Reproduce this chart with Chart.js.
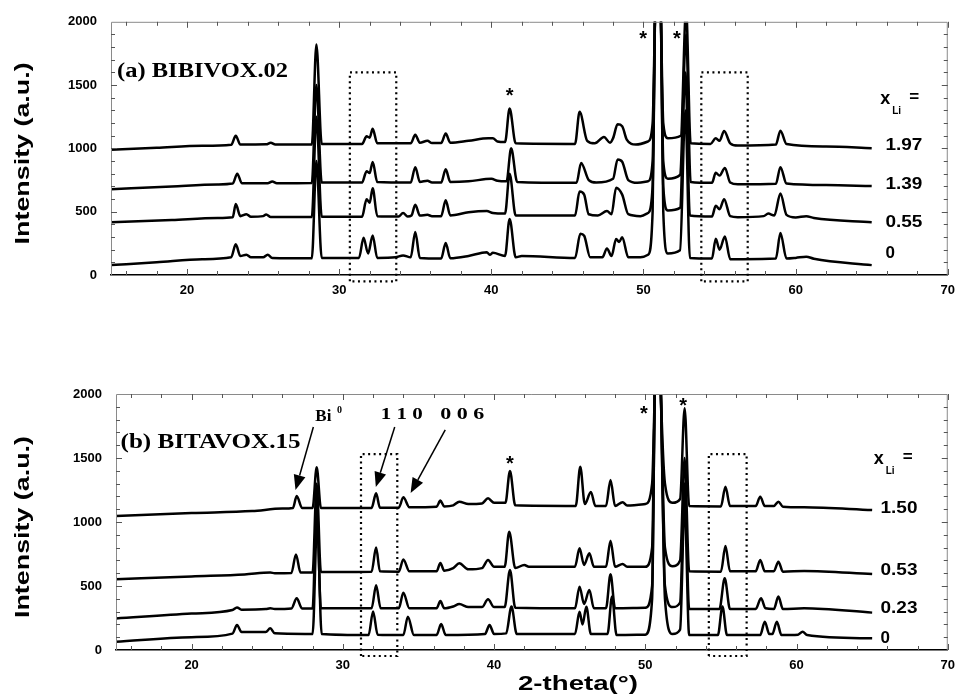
<!DOCTYPE html>
<html lang="en">
<head>
  <meta charset="UTF-8">
  <title>XRD BIBIVOX / BITAVOX</title>
  <script src="https://cdn.jsdelivr.net/npm/chart.js"></script>
  <style>
    body { margin: 0; background: #fff; }
    .panel { position: absolute; left: 0; width: 963px; }
    #pa { top: 0; height: 300px; }
    #pb { top: 370px; height: 326px; }
  </style>
</head>
<body>
  <div class="panel" id="pa"><canvas id="chartA" width="963" height="300"></canvas></div>
  <div class="panel" id="pb"><canvas id="chartB" width="963" height="326"></canvas></div>

  <script>
    // ---- data: [2-theta, intensity] ----
    // (a) BIBIVOX.02
    const a197 = [[15,990],[18,1005],[21,1020],[22.9,1028],[23.2,1100],[23.5,1030],[25.2,1032],[25.5,1045],[25.8,1030],[28.2,1030],[28.5,1820],[28.85,1035],[31.5,1035],[31.8,1095],[32.0,1085],[32.2,1155],[32.5,1040],[34.7,1040],[35.0,1107],[35.3,1045],[35.8,1060],[36.1,1042],[36.7,1042],[37.0,1117],[37.3,1045],[38.5,1060],[39.8,1080],[40.1,1080],[40.4,1055],[40.9,1050],[41.2,1315],[41.6,1040],[45.5,1035],[45.8,1289],[46.3,1060],[46.8,1040],[47.4,1090],[47.8,1045],[48.0,1080],[48.3,1190],[48.6,1175],[48.9,1070],[49.5,1030],[50.3,1055],[50.6,1200],[50.75,2000],[50.95,3000],[51.15,2000],[51.3,1200],[51.6,1080],[52.45,1100],[52.8,2100],[53.1,1040],[54.4,1035],[54.75,1080],[55.0,1060],[55.3,1138],[55.7,1040],[56.2,1022],[58.7,1030],[59.0,1140],[59.4,1035],[62,1015],[65,1002]];
    const a139 = [[15,678],[19,700],[22,715],[23.0,722],[23.3,800],[23.6,725],[25.3,725],[25.6,738],[25.9,725],[28.2,727],[28.5,1500],[28.85,730],[31.5,730],[31.8,820],[32.0,805],[32.2,893],[32.5,735],[34.7,730],[35.0,852],[35.3,735],[35.8,745],[36.1,730],[36.7,730],[37.0,835],[37.3,735],[38.5,740],[40.0,760],[40.4,745],[41.0,740],[41.3,1002],[41.7,735],[45.6,728],[45.9,885],[46.4,750],[46.9,730],[48.0,760],[48.3,913],[48.6,895],[49.0,750],[49.6,728],[50.3,740],[50.6,900],[50.75,2000],[50.95,3000],[51.15,2000],[51.3,900],[51.6,760],[52.4,790],[52.8,1900],[53.1,735],[54.5,728],[54.75,807],[55.0,785],[55.35,846],[55.7,730],[56.2,716],[58.7,720],[59.0,852],[59.4,722],[62,710],[65,703]];
    const a055 = [[15,417],[19,435],[22,450],[23.0,456],[23.2,560],[23.5,465],[23.9,480],[24.2,460],[25.0,465],[25.2,478],[25.5,458],[28.2,458],[28.5,1250],[28.85,460],[31.5,460],[31.8,599],[32.0,570],[32.2,685],[32.5,465],[33.9,462],[34.2,490],[34.5,462],[34.75,470],[35.0,555],[35.3,470],[35.8,475],[36.1,465],[36.7,465],[37.0,591],[37.3,470],[38.5,495],[39.7,505],[40.1,490],[40.9,485],[41.2,799],[41.6,470],[45.5,470],[45.8,659],[46.1,635],[46.4,480],[47.0,470],[47.6,505],[47.9,480],[48.2,690],[48.6,635],[49.0,480],[49.8,465],[50.3,490],[50.6,700],[50.75,2000],[50.95,3000],[51.15,2000],[51.3,700],[51.6,510],[52.4,530],[52.75,1600],[53.05,470],[54.5,462],[54.75,547],[55.0,520],[55.3,599],[55.7,465],[56.2,457],[57.9,465],[58.2,485],[58.6,470],[59.0,643],[59.4,475],[60.0,455],[60.7,465],[61.2,450],[65,417]];
    const a000 = [[15,78],[18,100],[21,125],[22.9,140],[23.2,242],[23.5,150],[23.9,160],[24.2,140],[25.0,140],[25.3,160],[25.6,135],[28.2,132],[28.5,900],[28.85,135],[31.3,135],[31.6,294],[31.9,170],[32.2,312],[32.5,135],[33.7,140],[34.2,155],[34.7,140],[35.0,339],[35.3,135],[36.7,130],[37.0,253],[37.3,132],[38.5,150],[39.7,180],[39.9,160],[40.1,175],[40.9,150],[41.2,443],[41.6,140],[42.0,150],[45.5,135],[45.85,326],[46.1,310],[46.5,140],[47.3,140],[47.6,210],[47.9,150],[48.2,285],[48.4,260],[48.6,299],[49.0,140],[49.8,140],[50.3,160],[50.6,500],[50.75,2000],[50.95,3000],[51.15,2000],[51.3,500],[51.6,170],[52.4,195],[52.75,1300],[53.05,135],[54.5,130],[54.75,286],[55.0,200],[55.35,305],[55.7,125],[56.5,125],[58.7,130],[59.0,331],[59.4,130],[60.0,135],[60.7,145],[61.2,128],[65,78]];

    // (b) BITAVOX.15
    const b150 = [[15,1047],[20,1070],[24,1085],[26.0,1105],[26.7,1110],[26.95,1203],[27.3,1110],[28.0,1110],[28.27,1427],[28.55,1110],[31.9,1110],[32.2,1224],[32.45,1112],[33.7,1112],[34.0,1193],[34.4,1115],[36.2,1120],[36.45,1167],[36.7,1122],[37.3,1130],[37.7,1159],[38.3,1140],[39.2,1145],[39.6,1185],[40.0,1150],[40.75,1150],[41.05,1398],[41.4,1130],[45.4,1125],[45.7,1432],[46.0,1140],[46.4,1234],[46.7,1125],[47.4,1125],[47.7,1328],[48.0,1125],[48.5,1155],[48.8,1128],[50.0,1140],[50.45,1300],[50.62,2000],[50.83,3000],[51.03,2000],[51.3,1300],[51.8,1150],[52.3,1180],[52.6,1888],[52.9,1125],[55.0,1122],[55.3,1276],[55.6,1125],[57.3,1125],[57.6,1198],[57.9,1125],[58.5,1125],[58.8,1159],[59.1,1120],[60.5,1115],[65,1094]];
    const b053 = [[15,552],[20,575],[23.5,590],[25.2,605],[25.5,600],[26.6,602],[26.9,747],[27.2,605],[28.0,605],[28.27,1300],[28.55,610],[31.9,612],[32.2,800],[32.45,615],[33.7,612],[34.0,708],[34.4,615],[36.2,615],[36.45,680],[36.7,620],[37.3,640],[37.7,677],[38.3,630],[39.2,640],[39.6,703],[40.0,650],[40.7,650],[41.0,924],[41.4,640],[42.0,665],[42.3,650],[45.35,651],[45.65,794],[45.95,665],[46.3,755],[46.6,651],[47.4,650],[47.7,854],[48.0,650],[48.5,672],[48.8,650],[50.0,650],[50.45,800],[50.62,2000],[50.83,3000],[51.03,2000],[51.3,800],[51.8,655],[52.3,700],[52.6,1500],[52.9,615],[55.0,612],[55.3,812],[55.6,615],[57.3,615],[57.6,703],[57.9,615],[58.5,615],[58.8,690],[59.1,612],[60.5,618],[65,594]];
    const b023 = [[15,247],[20,285],[22.7,312],[23.0,333],[23.3,315],[24.9,320],[25.2,326],[25.5,320],[26.6,325],[26.95,404],[27.3,325],[28.0,325],[28.27,1150],[28.55,326],[31.9,326],[32.2,505],[32.5,326],[33.7,326],[34.0,448],[34.4,326],[36.2,326],[36.45,383],[36.7,326],[37.3,340],[37.7,359],[38.3,335],[39.2,335],[39.6,396],[40.0,335],[40.7,335],[41.05,625],[41.4,330],[45.35,326],[45.65,495],[45.95,360],[46.3,469],[46.6,326],[47.4,326],[47.7,591],[48.0,326],[50.0,330],[50.45,500],[50.62,2000],[50.83,3000],[51.03,2000],[51.3,500],[51.8,335],[52.3,370],[52.6,1300],[52.9,320],[54.9,320],[55.25,560],[55.6,320],[57.3,320],[57.65,404],[57.95,326],[58.5,320],[58.8,417],[59.1,320],[60.5,326],[65,292]];
    const b000 = [[15,65],[20,100],[22.7,128],[23.0,195],[23.3,140],[24.9,140],[25.2,169],[25.5,130],[27.5,125],[28.0,125],[28.3,1000],[28.6,125],[31.7,117],[32.0,300],[32.3,120],[34.0,117],[34.3,260],[34.7,117],[36.2,117],[36.5,203],[36.8,117],[39.4,125],[39.7,195],[40.0,125],[40.8,130],[41.15,339],[41.5,125],[45.35,125],[45.65,299],[45.85,200],[46.1,338],[46.4,125],[47.5,125],[47.8,417],[48.1,117],[50.0,120],[50.45,400],[50.62,2000],[50.83,3000],[51.03,2000],[51.3,400],[51.8,125],[52.3,160],[52.6,1150],[52.9,117],[54.8,117],[55.1,340],[55.4,117],[57.6,117],[57.9,221],[58.2,125],[58.4,125],[58.7,221],[59.0,117],[60.1,120],[60.4,143],[60.7,117],[65,91]];

    const xLiA = ['1.97', '1.39', '0.55', '0'];
    const xLiB = ['1.50', '0.53', '0.23', '0'];
    const yTicks = [0, 500, 1000, 1500, 2000];
    const xTicks = [20, 30, 40, 50, 60, 70];

    // annotations (2-theta, intensity)
    const boxesA = [[30.7, 33.75, -50, 1600], [53.8, 56.85, -50, 1600]];
    const boxesB = [[31.2, 33.6, -47, 1530], [54.2, 56.7, -47, 1530]];
    const starsA = [[41.2, 1445], [49.97, 1890], [52.2, 1890]];
    const starsB = [[41.05, 1484], [49.9, 1875], [52.5, 1932]];
    const arrowsB = [[28.05, 1742, 26.87, 1250], [33.43, 1742, 32.18, 1273], [36.77, 1719, 34.48, 1227]];

    const SANS = '"Liberation Sans", Arial, sans-serif';
    const SERIF = '"Liberation Serif", "Times New Roman", serif';

    function txt(ctx, s, px, py, font, align, w) {
      ctx.save();
      ctx.font = font;
      ctx.textBaseline = 'middle';
      ctx.textAlign = 'left';
      const m = ctx.measureText(s).width;
      const k = w ? w / m : 1;
      const x0 = align === 'center' ? px - m * k / 2 : align === 'right' ? px - m * k : px;
      ctx.translate(x0, py);
      ctx.scale(k, 1);
      ctx.fillStyle = '#000';
      ctx.fillText(s, 0, 0);
      ctx.restore();
    }

    const deco = {
      id: 'deco',
      afterDraw(chart, args, o) {
        const { ctx, chartArea: ca, scales: { x, y } } = chart;
        ctx.save();
        // frame
        ctx.lineWidth = 1;
        ctx.strokeStyle = '#8a8a8a';
        ctx.beginPath();
        ctx.moveTo(ca.left + 0.5, ca.bottom); ctx.lineTo(ca.left + 0.5, ca.top + 0.5);
        ctx.lineTo(ca.right - 0.5, ca.top + 0.5); ctx.lineTo(ca.right - 0.5, ca.bottom);
        ctx.stroke();
        // inward minor ticks
        ctx.strokeStyle = '#555';
        ctx.beginPath();
        for (let v = 16; v <= 70; v += 2) {
          const px = Math.round(x.getPixelForValue(v)) + 0.5;
          const len = v % 10 === 0 ? 6 : 4;
          ctx.moveTo(px, ca.bottom); ctx.lineTo(px, ca.bottom - len);
          ctx.moveTo(px, ca.top); ctx.lineTo(px, ca.top + len);
        }
        for (let v = 100; v < 2000; v += 100) {
          const py = Math.round(y.getPixelForValue(v)) + 0.5;
          const len = v % 500 === 0 ? 6 : 4;
          ctx.moveTo(ca.left, py); ctx.lineTo(ca.left + len, py);
          ctx.moveTo(ca.right, py); ctx.lineTo(ca.right - len, py);
        }
        ctx.stroke();

        // y title, horizontally stretched like the scan
        ctx.save();
        ctx.translate(23, (ca.top + ca.bottom) / 2 + 5);
        ctx.rotate(-Math.PI / 2);
        txt(ctx, 'Intensity (a.u.)', 0, 0, 'bold 21px ' + SANS, 'center', 182);
        ctx.restore();

        // panel label
        txt(ctx, o.label, x.getPixelForValue(o.labelPos[0]), y.getPixelForValue(o.labelPos[1]),
            'bold 20px ' + SERIF, 'left', o.labelW);

        // asterisks
        o.stars.forEach(s => {
          txt(ctx, '*', x.getPixelForValue(s[0]), y.getPixelForValue(s[1]) + 4, 'bold 20px ' + SANS, 'center');
        });

        // x_Li = and values
        const lx = x.getPixelForValue(o.xLiPos[0]);
        const ly = y.getPixelForValue(o.xLiPos[1]);
        txt(ctx, 'x', lx, ly, 'bold 18px ' + SANS, 'left');
        txt(ctx, 'Li', lx + 12, ly + 12, 'bold 10px ' + SANS, 'left');
        txt(ctx, '=', lx + 29, ly - 2, 'bold 17px ' + SANS, 'left');
        o.values.forEach((v, i) => {
          txt(ctx, v, x.getPixelForValue(o.valX), y.getPixelForValue(o.valY[i]), 'bold 17px ' + SANS, 'left',
              v.length > 1 ? 37 : 0);
        });

        // arrows
        ctx.strokeStyle = '#000';
        ctx.fillStyle = '#000';
        ctx.lineWidth = 1.5;
        (o.arrows || []).forEach(a => {
          const x1 = x.getPixelForValue(a[0]), y1 = y.getPixelForValue(a[1]);
          const x2 = x.getPixelForValue(a[2]), y2 = y.getPixelForValue(a[3]);
          const ang = Math.atan2(y2 - y1, x2 - x1);
          const hl = 15, hw = 6;
          const bx = x2 - hl * Math.cos(ang), by = y2 - hl * Math.sin(ang);
          ctx.beginPath(); ctx.moveTo(x1, y1); ctx.lineTo(bx, by); ctx.stroke();
          ctx.beginPath();
          ctx.moveTo(x2, y2);
          ctx.lineTo(bx + hw * Math.sin(ang), by - hw * Math.cos(ang));
          ctx.lineTo(bx - hw * Math.sin(ang), by + hw * Math.cos(ang));
          ctx.closePath(); ctx.fill();
        });

        // peak labels (b)
        if (o.peakLabels) {
          txt(ctx, 'Bi', x.getPixelForValue(28.18), y.getPixelForValue(1820), 'bold 17px ' + SERIF, 'left');
          txt(ctx, '0', x.getPixelForValue(29.62), y.getPixelForValue(1875), 'bold 10px ' + SERIF, 'left');
          txt(ctx, '1 1 0', x.getPixelForValue(33.89), y.getPixelForValue(1836), 'bold 17px ' + SERIF, 'center', 42);
          txt(ctx, '0 0 6', x.getPixelForValue(37.9), y.getPixelForValue(1836), 'bold 17px ' + SERIF, 'center', 44);
        }

        // x title
        if (o.xTitle) {
          txt(ctx, '2-theta(°)', 578, o.xTitle, 'bold 21px ' + SANS, 'center', 120);
        }
        ctx.restore();
      }
    };

    function traceSet(series) {
      return series.map(d => ({
        data: d.map(p => ({ x: p[0], y: p[1] })),
        borderColor: '#000',
        borderWidth: 2.5,
        pointRadius: 0,
        cubicInterpolationMode: 'monotone',
        fill: false
      }));
    }

    function boxSet(boxes) {
      return boxes.map(b => ({
        data: [{ x: b[0], y: b[2] }, { x: b[0], y: b[3] }, { x: b[1], y: b[3] }, { x: b[1], y: b[2] }, { x: b[0], y: b[2] }],
        borderColor: '#000',
        borderWidth: 2.2,
        borderDash: [2, 3.5],
        pointRadius: 0,
        tension: 0,
        clip: false
      }));
    }

    function makeChart(id, series, boxes, pad, yWidth, xHeight, deco_) {
      return new Chart(document.getElementById(id), {
        type: 'line',
        data: { datasets: traceSet(series).concat(boxSet(boxes)) },
        options: {
          responsive: false,
          animation: false,
          devicePixelRatio: 1,
          layout: { padding: pad },
          plugins: { legend: { display: false }, tooltip: { enabled: false }, deco: deco_ },
          scales: {
            x: {
              type: 'linear', min: 15, max: 70,
              afterFit: s => { s.height = xHeight; },
              afterBuildTicks: s => { s.ticks = xTicks.map(v => ({ value: v })); },
              grid: { display: false, drawTicks: false },
              border: { display: true, color: '#000', width: 1.5 },
              ticks: { color: '#000', padding: 8, maxRotation: 0, callback: v => String(v),
                       font: { family: SANS, size: 13, weight: 'bold' } }
            },
            y: {
              min: 0, max: 2000,
              afterFit: s => { s.width = yWidth; },
              afterBuildTicks: s => { s.ticks = yTicks.map(v => ({ value: v })); },
              grid: { display: false, drawTicks: false },
              border: { display: false },
              ticks: { color: '#000', padding: 14, callback: v => String(v),
                       font: { family: SANS, size: 13, weight: 'bold' } }
            }
          }
        },
        plugins: [deco]
      });
    }

    makeChart('chartA', [a197, a139, a055, a000], boxesA, { left: 0, right: 12, top: 19, bottom: 0 }, 111, 25, {
      label: '(a) BIBIVOX.02', labelPos: [15.4, 1601], labelW: 171,
      stars: starsA,
      xLiPos: [65.56, 1390], values: xLiA, valX: 65.9, valY: [1023, 719, 414, 172]
    });

    makeChart('chartB', [b150, b053, b023, b000], boxesB, { left: 0, right: 12, top: 24, bottom: 0 }, 116, 46, {
      label: '(b) BITAVOX.15', labelPos: [15.3, 1617], labelW: 180,
      stars: starsB, arrows: arrowsB, peakLabels: true, xTitle: 314,
      xLiPos: [65.1, 1492], values: xLiB, valX: 65.55, valY: [1109, 625, 328, 94]
    });
  </script>
</body>
</html>
